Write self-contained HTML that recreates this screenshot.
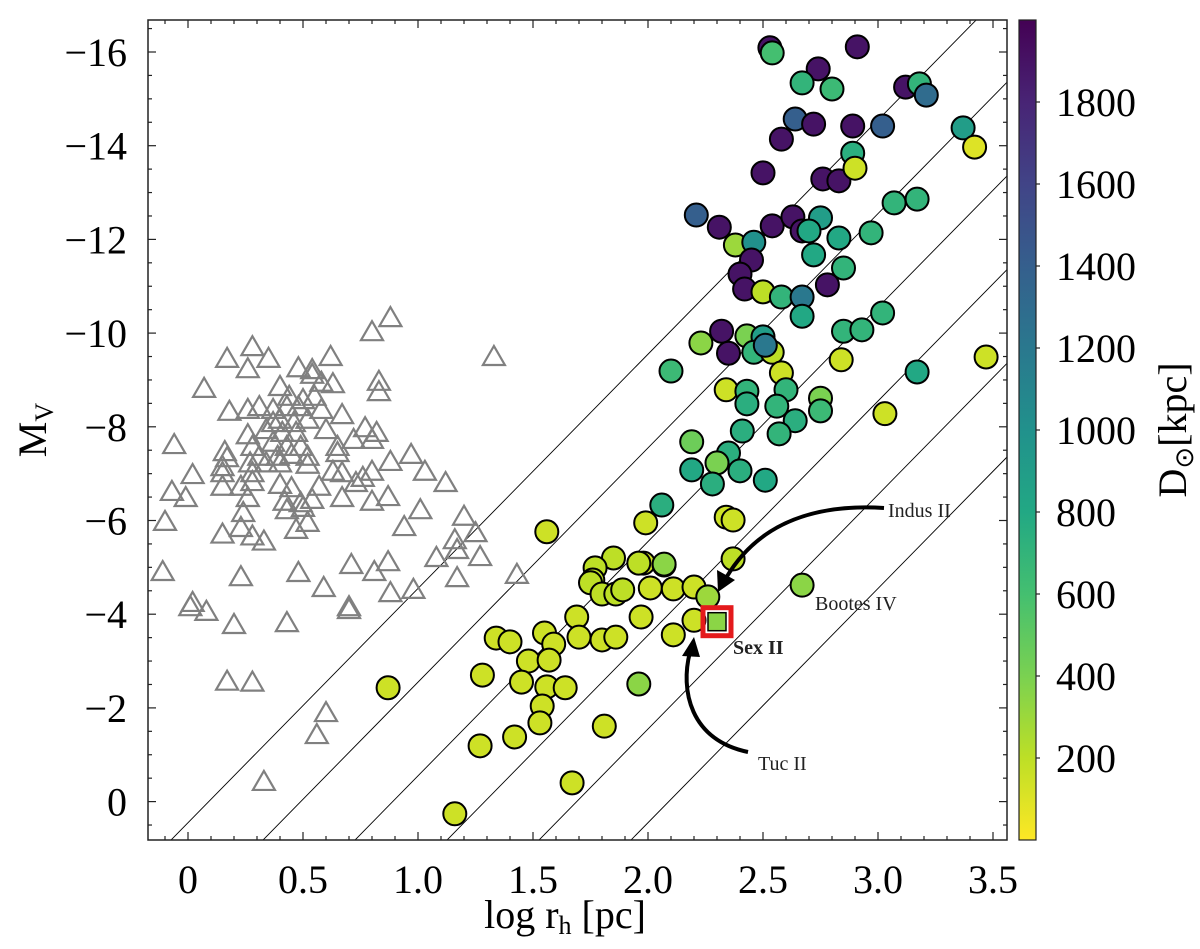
<!DOCTYPE html>
<html><head><meta charset="utf-8"><style>
html,body{margin:0;padding:0;background:#fff;overflow:hidden;width:1200px;height:949px;}
svg{display:block;font-family:"Liberation Serif",serif;}
</style></head><body>
<svg id="chart" width="1200" height="949" viewBox="0 0 1200 949" xmlns="http://www.w3.org/2000/svg">
<defs>
<linearGradient id="vir" x1="0" y1="1" x2="0" y2="0">
<stop offset="0" stop-color="#fde725"/><stop offset="0.1" stop-color="#bddf26"/><stop offset="0.2" stop-color="#7ad151"/><stop offset="0.3" stop-color="#44bf70"/><stop offset="0.4" stop-color="#22a884"/><stop offset="0.5" stop-color="#21918c"/><stop offset="0.6" stop-color="#2a788e"/><stop offset="0.7" stop-color="#355f8d"/><stop offset="0.8" stop-color="#414487"/><stop offset="0.9" stop-color="#482475"/><stop offset="1" stop-color="#440154"/>
</linearGradient>
</defs>
<rect x="148" y="20" width="859" height="820" fill="#fff"/>
<g id="lines"></g>
<g id="tris"></g>
<g id="circs"></g>
<g id="ann"></g>
<g id="axes"></g>
<rect x="1019" y="20" width="17" height="820" fill="url(#vir)" stroke="#222" stroke-width="1.2"/>
<text x="46" y="430" font-size="40" text-anchor="middle" transform="rotate(-90 46 430)">M<tspan font-size="26" dy="7">V</tspan></text>
<text x="565" y="928" font-size="40" text-anchor="middle">log r<tspan font-size="26" dy="6">h</tspan><tspan dy="-6"> [pc]</tspan></text>
<text x="1186" y="430" font-size="40" text-anchor="middle" transform="rotate(-90 1186 430)">D<tspan font-size="26" dy="7">⊙</tspan><tspan dy="-7">[kpc]</tspan></text>
</svg>
<script>
const NS="http://www.w3.org/2000/svg";
// data
const galLogR=[2.53,2.54,2.91,2.74,2.67,2.80,2.64,2.72,2.89,3.02,2.58,2.50,2.76,2.83,2.89,2.90,3.12,3.18,3.21,3.37,3.42,2.21,2.31,2.38,2.46,2.54,2.63,2.75,2.67,2.70,2.83,2.97,3.07,3.17,2.45,2.40,2.42,2.50,2.58,2.67,2.72,2.85,2.78,2.67,3.02,2.85,2.93,2.32,2.23,2.43,2.50,2.35,2.46,2.54,2.51,2.10,2.84,2.58,3.17,3.47,2.34,2.43,2.43,2.60,2.56,2.75,2.75,2.64,3.03,2.41,2.57,2.19,2.35,2.30,2.19,2.40,2.28,2.51,2.06,2.34,2.37,1.99,2.37,1.98,2.07,2.01,2.11,2.20,2.26,2.67,1.56,1.85,1.77,1.76,1.75,1.96,2.07,1.80,1.86,1.89,1.69,1.97,2.20,2.11,1.34,1.40,1.55,1.59,1.70,1.80,1.86,1.48,1.57,1.28,1.45,1.56,1.64,1.96,0.87,1.54,1.53,1.42,1.27,1.81,1.67,1.16];
const galMV=[-16.09,-15.98,-16.11,-15.64,-15.34,-15.21,-14.57,-14.46,-14.42,-14.42,-14.14,-13.42,-13.29,-13.25,-13.84,-13.52,-15.25,-15.32,-15.08,-14.38,-13.97,-12.52,-12.26,-11.88,-11.94,-12.29,-12.48,-12.46,-12.18,-12.18,-12.03,-12.14,-12.78,-12.86,-11.56,-11.26,-10.94,-10.88,-10.77,-10.77,-11.67,-11.39,-11.03,-10.36,-10.43,-10.04,-10.07,-10.04,-9.79,-9.94,-9.92,-9.57,-9.59,-9.59,-9.74,-9.19,-9.43,-9.15,-9.17,-9.49,-8.79,-8.76,-8.49,-8.79,-8.44,-8.61,-8.34,-8.13,-8.28,-7.91,-7.85,-7.68,-7.44,-7.23,-7.08,-7.06,-6.78,-6.86,-6.33,-6.07,-6.01,-5.95,-5.18,-5.09,-5.05,-4.56,-4.54,-4.58,-4.37,-4.62,-5.76,-5.20,-4.99,-4.73,-4.67,-5.09,-5.07,-4.43,-4.43,-4.52,-3.94,-3.94,-3.87,-3.56,-3.49,-3.41,-3.60,-3.36,-3.51,-3.45,-3.51,-3.00,-3.02,-2.70,-2.55,-2.45,-2.43,-2.51,-2.43,-2.04,-1.68,-1.38,-1.19,-1.61,-0.40,0.26];
const galDist=[1900,600,1900,1900,700,650,1400,1900,1900,1400,1900,1900,1900,1900,750,150,1900,700,1300,900,100,1400,1900,300,1000,1900,1900,900,1900,800,800,700,700,700,1900,1900,1900,200,700,1200,800,700,1900,800,700,700,700,1900,350,400,900,1900,700,200,1200,650,150,150,800,150,150,700,750,700,700,400,650,750,150,750,700,450,750,400,800,750,750,800,750,150,150,150,200,150,150,150,150,150,300,350,150,200,200,200,200,200,350,200,200,200,150,150,150,150,150,150,150,150,150,150,150,150,150,150,150,150,150,350,150,150,150,150,150,150,150,150];
const gcLogR=[0.88,0.80,0.28,0.17,0.35,0.26,0.62,0.48,0.54,0.54,0.58,0.63,0.83,0.83,0.07,1.33,0.40,0.44,0.50,0.55,0.18,0.26,0.31,0.37,0.43,0.48,0.58,0.67,0.37,0.40,0.46,0.52,0.34,0.41,0.47,0.60,0.26,0.77,0.82,0.72,0.80,-0.06,0.37,0.43,0.49,0.28,0.65,0.16,0.31,0.39,0.45,0.52,0.65,0.17,0.27,0.34,0.40,0.52,0.15,0.02,0.15,0.63,0.67,0.88,0.97,1.03,0.80,0.28,0.28,0.15,0.23,0.40,0.45,0.57,0.73,0.76,1.12,-0.07,-0.01,0.26,0.42,0.49,0.54,0.67,0.80,0.87,0.50,0.43,0.24,1.01,0.52,0.23,0.47,1.20,1.25,0.94,-0.10,0.15,0.28,0.33,1.16,1.17,1.08,1.27,1.43,-0.11,0.23,0.48,0.71,0.87,0.81,1.17,0.59,0.88,0.98,0.02,0.01,0.08,0.70,0.70,0.20,0.43,0.17,0.28,0.60,0.56,0.33];
const gcMV=[-10.32,-10.02,-9.70,-9.45,-9.45,-9.23,-9.49,-9.25,-9.21,-9.11,-8.94,-8.91,-8.96,-8.74,-8.81,-9.49,-8.85,-8.64,-8.57,-8.64,-8.32,-8.36,-8.42,-8.36,-8.42,-8.42,-8.36,-8.25,-8.08,-8.15,-8.08,-8.15,-7.93,-7.87,-7.87,-7.93,-7.82,-7.97,-7.87,-7.72,-7.72,-7.61,-7.66,-7.57,-7.57,-7.57,-7.57,-7.46,-7.36,-7.36,-7.40,-7.36,-7.44,-7.33,-7.22,-7.22,-7.22,-7.19,-7.14,-6.97,-7.01,-7.04,-7.01,-7.25,-7.40,-7.04,-7.04,-7.01,-6.82,-6.72,-6.72,-6.76,-6.69,-6.72,-6.80,-6.91,-6.80,-6.61,-6.48,-6.48,-6.40,-6.37,-6.44,-6.48,-6.40,-6.50,-6.27,-6.22,-6.16,-6.22,-5.95,-5.84,-5.80,-6.08,-5.73,-5.86,-5.97,-5.70,-5.66,-5.55,-5.58,-5.37,-5.20,-5.22,-4.84,-4.90,-4.79,-4.88,-5.05,-5.11,-4.90,-4.77,-4.56,-4.45,-4.52,-4.24,-4.15,-4.05,-4.15,-4.09,-3.77,-3.81,-2.56,-2.54,-1.89,-1.42,-0.42];
const sbOffsets=[0.45,2.45,4.45,6.45,8.45,10.45];
const sexII=[2.30,-3.84,350];
const xTicks=[0,0.5,1.0,1.5,2.0,2.5,3.0,3.5];
const xTickLabels=["0","0.5","1.0","1.5","2.0","2.5","3.0","3.5"];
const yTicks=[-16,-14,-12,-10,-8,-6,-4,-2,0];
const yTickLabels=["−16","−14","−12","−10","−8","−6","−4","−2","0"];
const cbTicks=[200,400,600,800,1000,1200,1400,1600,1800];

const X=v=>188+230*v;
const Y=m=>801.6+46.85*m;
const CB=d=>840-d*0.41;
const XMIN=-0.174,XMAX=3.56,YMIN=-16.68,YMAX=0.82;
const stops=["#fde725","#bddf26","#7ad151","#44bf70","#22a884","#21918c","#2a788e","#355f8d","#414487","#482475","#440154"];
function hex(h){return [1,3,5].map(i=>parseInt(h.substr(i,2),16));}
function color(d){let t=Math.max(0,Math.min(1,d/2000))*10;let i=Math.min(9,Math.floor(t));let f=t-i;let a=hex(stops[i]),b=hex(stops[i+1]);return "rgb("+a.map((c,k)=>Math.round(c+(b[k]-c)*f)).join(",")+")";}
function mk(tag,attrs,parent){const e=document.createElementNS(NS,tag);for(const k in attrs)e.setAttribute(k,attrs[k]);parent.appendChild(e);return e;}

const gl=document.getElementById("lines");
sbOffsets.forEach(c=>{
  const v1=Math.max(XMIN,(c-YMAX)/5), v2=Math.min(XMAX,(c-YMIN)/5);
  if(v2<=v1) return;
  const l=mk("line",{x1:X(v1),y1:Y(-5*v1+c),x2:X(v2),y2:Y(-5*v2+c),stroke:"#000","stroke-width":0.9},gl);
  
  
});
const gt=document.getElementById("tris");
gcLogR.forEach((v,i)=>{
  const cx=X(v),cy=Y(gcMV[i]);
  const p=mk("polygon",{points:`${cx},${cy-11} ${cx-11},${cy+8} ${cx+11},${cy+8}`,fill:"none",stroke:"#808080","stroke-width":2.2},gt);
  
  
});
const gc=document.getElementById("circs");
galLogR.forEach((v,i)=>{
  const c=mk("circle",{cx:X(v),cy:Y(galMV[i]),r:11.5,fill:color(galDist[i]),stroke:"#000","stroke-width":2},gc);
  
  
});
// Sex II
const ga=document.getElementById("ann");
const sx=X(sexII[0]),sy=Y(sexII[1]);
const sq=mk("rect",{x:sx-14,y:sy-14,width:28,height:28,fill:"none",stroke:"#e41a1c","stroke-width":5},ga);


const sq2=mk("rect",{x:sx-9,y:sy-9,width:18,height:18,fill:color(sexII[2]),stroke:"#000","stroke-width":1.5},ga);


const a1=mk("path",{d:"M884,508 C820,504 760,520 726,578",fill:"none",stroke:"#000","stroke-width":4},ga);


const h1=mk("polygon",{points:"718,592 717,570 735,580",fill:"#000"},ga);


const a2=mk("path",{d:"M748,752 C690,740 680,690 690,652",fill:"none",stroke:"#000","stroke-width":4},ga);


const h2=mk("polygon",{points:"694,637 682,656 700,657",fill:"#000"},ga);


[["Indus II",888,517,"normal","indus-ii-label"],["Bootes IV",815,610,"normal","bootes-iv-label"],["Sex II",733,654,"bold","sex-ii-label"],["Tuc II",758,770,"normal","tuc-ii-label"]].forEach(t=>{
  const e=mk("text",{x:t[1],y:t[2],"font-size":20,"font-weight":t[3],fill:"#222"},ga);
  e.textContent=t[0];
  
  
});
// axes
const ax=document.getElementById("axes");
const fr=mk("rect",{x:148,y:20,width:859,height:820,fill:"none",stroke:"#222","stroke-width":1.5},ax);


for(let k=-1;k<=35;k++){const v=k/10;if(v<XMIN||v>XMAX)continue;const L=(k%5===0)?8:4;
  mk("line",{x1:X(v),y1:840,x2:X(v),y2:840-L,stroke:"#222","stroke-width":1.2},ax);
  mk("line",{x1:X(v),y1:20,x2:X(v),y2:20+L,stroke:"#222","stroke-width":1.2},ax);}
for(let k=-33;k<=1;k++){const m=k/2;if(m<YMIN||m>YMAX)continue;const L=(k%4===0)?8:4;
  mk("line",{x1:148,y1:Y(m),x2:148+L,y2:Y(m),stroke:"#222","stroke-width":1.2},ax);
  mk("line",{x1:1007,y1:Y(m),x2:1007-L,y2:Y(m),stroke:"#222","stroke-width":1.2},ax);}
xTicks.forEach((v,i)=>{const e=mk("text",{x:X(v),y:893,"font-size":40,"text-anchor":"middle"},ax);e.textContent=xTickLabels[i];
  
  });
yTicks.forEach((m,i)=>{const e=mk("text",{x:127,y:Y(m)+14,"font-size":40,"text-anchor":"end"},ax);e.textContent=yTickLabels[i];
  
  });
cbTicks.forEach(d=>{mk("line",{x1:1036,y1:CB(d),x2:1040,y2:CB(d),stroke:"#222","stroke-width":1.2},ax);
  const e=mk("text",{x:1056,y:CB(d)+14,"font-size":40},ax);e.textContent=String(d);
  
  });
</script>
</body></html>
